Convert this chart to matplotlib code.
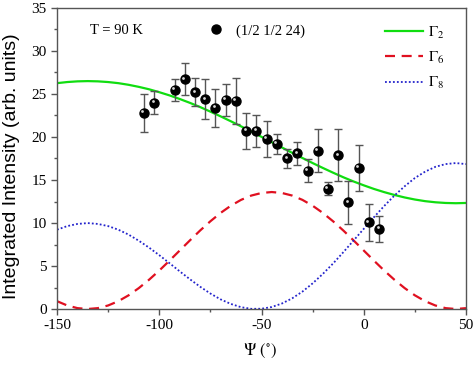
import matplotlib
matplotlib.use("Agg")
import matplotlib.pyplot as plt
import matplotlib.transforms as mtransforms
from matplotlib.lines import Line2D

plt.rcParams['font.family'] = ['Liberation Serif', 'DejaVu Serif']
plt.rcParams['mathtext.fontset'] = 'stix'
plt.rcParams['axes.unicode_minus'] = False

# measured points (1/2 1/2 24), T = 90 K
psi = [-107.5, -102.5, -92.5, -87.5, -82.5, -77.5, -72.5, -67.5, -62.5, -57.5, -52.5, -47.5,
       -42.5, -37.5, -32.5, -27.5, -22.5, -17.5, -12.5, -7.5, -2.5, 2.5, 7.5]
intensity = [22.8, 24.0, 25.5, 26.7, 25.2, 24.4, 23.4, 24.3, 24.2, 20.7, 20.7, 19.8,
             19.2, 17.5, 18.1, 16.1, 18.4, 14.0, 17.9, 12.4, 16.4, 10.1, 9.3]
intensity_err = [2.2, 1.35, 1.3, 1.85, 1.65, 2.3, 2.2, 1.9, 2.7, 2.1, 1.9, 2.1,
                 1.2, 1.1, 1.35, 1.3, 2.5, 0.8, 3.05, 2.5, 2.7, 2.15, 1.47]

# model curves every 5 deg
psi_model = [-150, -145, -140, -135, -130, -125, -120, -115, -110, -105, -100, -95, -90, -85,
             -80, -75, -70, -65, -60, -55, -50, -45, -40, -35, -30, -25, -20, -15, -10, -5,
             0, 5, 10, 15, 20, 25, 30, 35, 40, 45, 50]
gamma2 = [26.26, 26.39, 26.47, 26.5, 26.47, 26.39, 26.26, 26.07, 25.83, 25.55, 25.21, 24.84,
          24.42, 23.97, 23.48, 22.95, 22.40, 21.83, 21.24, 20.64, 20.02, 19.4, 18.78, 18.16,
          17.56, 16.97, 16.40, 15.85, 15.32, 14.83, 14.38, 13.96, 13.59, 13.26, 12.97, 12.73,
          12.54, 12.41, 12.33, 12.30, 12.33]
gamma6 = [0.91, 0.41, 0.10, 0.0, 0.10, 0.41, 0.91, 1.59, 2.43, 3.40, 4.47, 5.62, 6.80, 7.98,
          9.13, 10.20, 11.17, 12.01, 12.69, 13.19, 13.49, 13.60, 13.49, 13.19, 12.69, 12.01,
          11.17, 10.20, 9.13, 7.98, 6.80, 5.62, 4.47, 3.40, 2.43, 1.59, 0.91, 0.41, 0.10, 0.0,
          0.10]
gamma8 = [9.22, 9.64, 9.89, 9.99, 9.89, 9.64, 9.22, 8.65, 7.94, 7.14, 6.26, 5.33, 4.38, 3.46,
          2.59, 1.80, 1.12, 0.59, 0.21, 0.02, 0.03, 0.23, 0.64, 1.24, 2.02, 2.98, 4.08, 5.29,
          6.60, 7.96, 9.32, 10.68, 11.98, 13.19, 14.27, 15.23, 15.97, 16.53, 16.85, 16.97, 16.85]

fig = plt.figure(figsize=(4.74, 3.65), dpi=100)
ax = fig.add_axes([57 / 474, 1 - 309 / 365, 409 / 474, 301 / 365])

l2, = ax.plot(psi_model, gamma2, color='#10dd10', lw=1.6, label=r'$\Gamma_2$')
l6, = ax.plot(psi_model, gamma6, color='#e01020', lw=1.6, linestyle=(0, (4.5, 3)),
              label=r'$\Gamma_6$')
l8, = ax.plot(psi_model, gamma8, color='#2424cc', lw=1.3, linestyle=(0, (1, 1.2)),
              label=r'$\Gamma_8$')

ax.errorbar(psi, intensity, yerr=intensity_err, fmt='none', ecolor='#555555',
            elinewidth=1, capsize=2.8, capthick=1, zorder=3)
ax.plot(psi, intensity, 'o', color='black', ms=6.5, zorder=4)
shine = mtransforms.offset_copy(ax.transData, fig=fig, x=-1.1, y=1.1, units='points')
ax.plot(psi, intensity, 'o', color='#d8d8d8', ms=2.0, mew=0, transform=shine, zorder=5)

ax.set_xlim(-150, 50)
ax.set_ylim(0, 35)
ax.set_xticks([-150, -100, -50, 0, 50])
ax.set_xticks([-125, -75, -25, 25], minor=True)
ax.set_yticks(range(0, 36, 5))
ax.set_yticks([2.5, 7.5, 12.5, 17.5, 22.5, 27.5, 32.5], minor=True)
ax.tick_params(which='major', direction='out', length=4, width=1, labelsize=11,
               color='#555555')
ax.tick_params(which='minor', direction='out', length=2.5, width=1, color='#555555')
for s in ax.spines.values():
    s.set_color('#555555')
    s.set_linewidth(1)

ax.set_ylabel('Integrated Intensity (arb. units)', family='Liberation Sans', fontsize=14)
ax.yaxis.set_label_coords(-0.09, 0.475)
ax.set_xlabel(r'$\Psi\ (^{\circ})$', fontsize=12)
ax.xaxis.set_label_coords(0.496, -0.11)

ax.text(0.081, 0.924, 'T = 90 K', transform=ax.transAxes, fontsize=10.5, va='center')

leg1 = ax.legend(handles=[l2, l6, l8], loc='upper left', bbox_to_anchor=(0.802, 0.945),
                 frameon=False, fontsize=11, handlelength=2.5, handletextpad=0.3,
                 labelspacing=0.6, borderpad=0, borderaxespad=0)
ax.add_artist(leg1)
pt = Line2D([], [], marker='o', color='black', ms=6.5, linestyle='none')
ax.legend(handles=[pt], labels=['(1/2 1/2 24)'], loc='center left',
          bbox_to_anchor=(0.37, 0.924), frameon=False, fontsize=10.5, handlelength=1,
          handletextpad=0.9, borderpad=0, borderaxespad=0)

fig.savefig('out.png', dpi=100)
